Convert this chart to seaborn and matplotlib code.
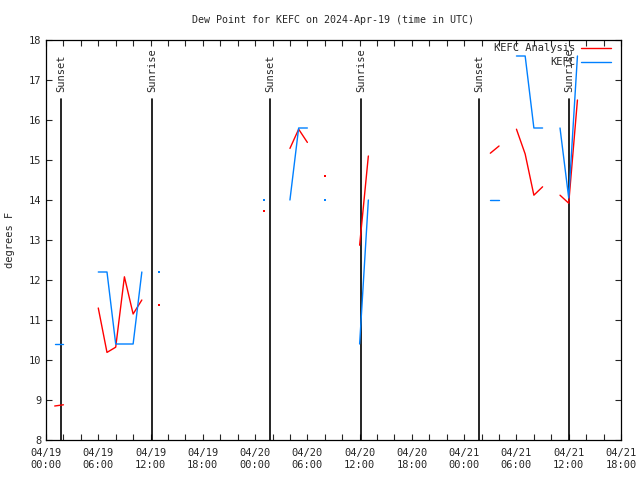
import matplotlib
matplotlib.use("Agg")
import matplotlib.pyplot as plt
import matplotlib.dates as mdates
import pandas as pd
import seaborn as sns

START = pd.Timestamp("2024-04-19 00:00")

# hours after 04/19 00:00 UTC, gaps where an hour is missing
ANALYSIS_HOURS = [1, 2, 6, 7, 8, 9, 10, 11, 13, 25, 28, 29, 30, 32, 36, 37,
                  51, 52, 54, 55, 56, 57, 59, 60, 61]
ANALYSIS_DEWPT = [8.85, 8.88, 11.3, 10.19, 10.32, 12.08, 11.15, 11.5, 11.38,
                  13.72, 15.29, 15.77, 15.44, 14.59, 12.87, 15.1,
                  15.17, 15.35, 15.77, 15.15, 14.12, 14.33, 14.12, 13.92, 16.5]

OBS_HOURS = [1, 2, 6, 7, 8, 9, 10, 11, 13, 25, 28, 29, 30, 32, 36, 37,
             51, 52, 54, 55, 56, 57, 59, 60, 61]
OBS_DEWPT = [10.4, 10.4, 12.2, 12.2, 10.4, 10.4, 10.4, 12.2, 12.2,
             14.0, 14.0, 15.8, 15.8, 14.0, 10.4, 14.0,
             14.0, 14.0, 17.6, 17.6, 15.8, 15.8, 15.8, 14.05, 17.6]

SUNSET = ["2024-04-19 01:42", "2024-04-20 01:44", "2024-04-21 01:43"]
SUNRISE = ["2024-04-19 12:12", "2024-04-20 12:11", "2024-04-21 12:02"]

SERIES = ["KEFC Analysis", "KEFC"]
COLORS = {"KEFC Analysis": "#ff0000", "KEFC": "#0080ff"}


def to_rows(hours, vals, name):
    rows = []
    seg = 0
    prev = None
    for h, v in zip(hours, vals):
        if prev is not None and h - prev > 1:
            seg += 1
        rows.append({"time": START + pd.Timedelta(hours=h), "dewpt": v,
                     "series": name, "seg": f"{name}-{seg}"})
        prev = h
    return rows


df = pd.DataFrame(to_rows(ANALYSIS_HOURS, ANALYSIS_DEWPT, SERIES[0]) +
                  to_rows(OBS_HOURS, OBS_DEWPT, SERIES[1]))
# single hours with no neighbour get drawn as a dot
seg_size = df.groupby("seg")["seg"].transform("size")
lone = df[seg_size == 1]

sns.set_style("ticks")
plt.rcParams["font.family"] = ["DejaVu Sans Mono"]
plt.rcParams["font.size"] = 7

fig = plt.figure(figsize=(6.4, 4.8), dpi=100)
ax = fig.add_axes([46 / 640, 40 / 480, 575 / 640, 400 / 480])

# sunrise / sunset markers
for label, times in (("Sunset", SUNSET), ("Sunrise", SUNRISE)):
    for t in times:
        t = pd.Timestamp(t)
        ax.plot([t, t], [8, 16.52], color="black", lw=1.2, zorder=1.5)
        ax.text(t, 16.7, label, rotation=90, ha="center", va="bottom",
                fontsize=7.5)

sns.lineplot(data=df, x="time", y="dewpt", hue="series", hue_order=SERIES,
             units="seg", estimator=None, palette=COLORS, linewidth=1.0,
             legend=False, ax=ax, zorder=2)
sns.scatterplot(data=lone, x="time", y="dewpt", hue="series",
                hue_order=SERIES, palette=COLORS, marker="s", s=2.5,
                linewidth=0, legend=False, ax=ax, zorder=2)

ax.set_xlim(START, START + pd.Timedelta(hours=66))
ax.set_ylim(8, 18)
ax.set_yticks(range(8, 19))
ax.xaxis.set_major_locator(mdates.HourLocator(byhour=[0, 6, 12, 18]))
ax.xaxis.set_minor_locator(mdates.HourLocator(byhour=range(0, 24, 2)))
ax.xaxis.set_major_formatter(mdates.DateFormatter("%m/%d\n%H:%M"))
ax.tick_params(which="both", direction="in", top=True, right=True,
               length=4, width=0.8, labelsize=7.5)
ax.tick_params(axis="x", pad=6)
for s in ax.spines.values():
    s.set_linewidth(0.9)
    s.set_color("black")

ax.set_xlabel("")
ax.set_ylabel("degrees F", fontsize=7.5, labelpad=10)
ax.set_title("Dew Point for KEFC on 2024-Apr-19 (time in UTC)",
             fontsize=7.2, pad=12)

# key, gnuplot style: right-aligned text then line sample
for i, name in enumerate(SERIES):
    y = 0.98 - i * 0.035
    ax.text(0.92, y, name, transform=ax.transAxes, ha="right", va="center",
            fontsize=7.5)
    ax.plot([0.93, 0.982], [y, y], transform=ax.transAxes,
            color=COLORS[name], lw=1.0)

fig.savefig("out.png", dpi=100)
